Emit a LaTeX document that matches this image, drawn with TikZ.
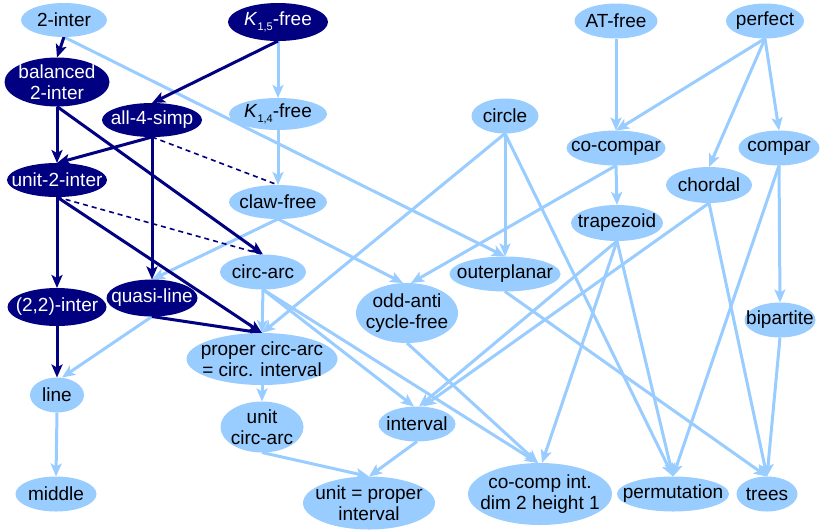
\documentclass[tikz,border=0pt]{standalone}
\usepackage{fontspec}
\setmainfont{Liberation Sans}
\usetikzlibrary{arrows.meta,shapes.geometric,backgrounds}
\definecolor{lb}{RGB}{153,204,255}
\definecolor{nv}{RGB}{0,0,128}
\newcommand{\Kf}[1]{\textit{K}\raisebox{-5pt}{\fontsize{11}{11}\selectfont #1}-free}
\begin{document}
\begin{tikzpicture}[x=1pt,y=-1pt,
  gbase/.style 2 args={ellipse, inner xsep=-25pt, inner ysep=-12pt, outer sep=0pt,
     minimum width=#1pt, minimum height=#2pt, align=center,
     font=\fontsize{19}{21}\selectfont},
  lnode/.style 2 args={gbase={#1}{#2}, fill=lb, text=black},
  dnode/.style 2 args={gbase={#1}{#2}, fill=nv, text=white},
  tip/.style={-{Stealth[length=13pt,width=11pt,inset=3pt]}},
  ledge/.style={draw=lb, line width=3pt, tip},
  dedge/.style={draw=nv, line width=3pt, tip},
  dashedge/.style={draw=nv, line width=1.6pt, dash pattern=on 5pt off 4pt}]
\useasboundingbox (0,0) rectangle (821,531);

% nodes
\node[lnode={86}{34}] (i2) at (64,20) {2-inter};
\node[dnode={100}{38}] (k15) at (278,22) {\Kf{1,5}};
\node[lnode={83}{35}] (at) at (616,21) {AT-free};
\node[lnode={78}{35}] (perfect) at (765,21) {perfect};
\node[dnode={105}{49}] (bal) at (57,82) {balanced\\2-inter};
\node[dnode={100}{34}] (a4s) at (152,120) {all-4-simp};
\node[lnode={98}{32}] (k14) at (278,114) {\Kf{1,4}};
\node[lnode={67}{35}] (circle) at (505,116) {circle};
\node[lnode={99}{35}] (cocomp) at (616,148) {co-compar};
\node[lnode={81}{35}] (compar) at (779,148) {compar};
\node[lnode={86}{36}] (chordal) at (709,185) {chordal};
\node[dnode={100}{34}] (u2i) at (57,180) {unit-2-inter};
\node[lnode={98}{34}] (claw) at (278,202) {claw-free};
\node[lnode={92}{36}] (trap) at (617,223) {trapezoid};
\node[lnode={86}{35}] (carc) at (263,272) {circ-arc};
\node[lnode={111}{35}] (outer) at (505,274) {outerplanar};
\node[dnode={99}{38}] (i22) at (57,307) {(2,2)-inter};
\node[dnode={91}{37}] (ql) at (152,298) {quasi-line};
\node[lnode={102}{60}] (odd) at (407,313) {odd-anti\\cycle-free};
\node[lnode={71}{35}] (bip) at (780,320) {bipartite};
\node[lnode={151}{52}] (pca) at (262,359) {proper circ-arc\\= circ. interval};
\node[lnode={54}{35}] (line) at (57,395) {line};
\node[lnode={83}{51}] (uca) at (262,427) {unit\\circ-arc};
\node[lnode={77}{35}] (interval) at (417,424) {interval};
\node[lnode={81}{35}] (middle) at (56,494) {middle};
\node[lnode={132}{53}] (upi) at (369,503) {unit = proper\\interval};
\node[lnode={144}{62}] (cci) at (540,494) {co-comp int.\\dim 2 height 1};
\node[lnode={112}{35}] (perm) at (673,494) {permutation};
\node[lnode={61}{35}] (trees) at (767,494) {trees};

\begin{scope}[on background layer]
% light edges
\draw[ledge] (i2.south) -- (outer.north);
\draw[ledge] (k15.south) -- (k14.north);
\draw[ledge] (k14.south) -- (claw.north);
\draw[ledge] (claw.south) -- (ql.north);
\draw[ledge] (claw.south) -- ([xshift=-4pt]odd.north);
\draw[ledge] (circle.south) -- (pca.north);
\draw[ledge] (circle.south) -- (outer.north);
\draw[ledge] (circle.south) -- (perm.north);
\draw[ledge] (at.south) -- (cocomp.north);
\draw[ledge] (perfect.south) -- (cocomp.north);
\draw[ledge] (perfect.south) -- (chordal.north);
\draw[ledge] (perfect.south) -- (compar.north);
\draw[ledge] (cocomp.south) -- (trap.north);
\draw[ledge] (cocomp.south) -- ([xshift=4pt]odd.north);
\draw[ledge] (compar.south) -- (bip.north);
\draw[ledge] (compar.south) -- (perm.north);
\draw[ledge] (chordal.south) -- (trees.north);
\draw[ledge] (chordal.south) -- ([xshift=6pt]interval.north);
\draw[ledge] (trap.south) -- ([xshift=2pt]interval.north);
\draw[ledge] (trap.south) -- ([xshift=2pt]cci.north);
\draw[ledge] (trap.south) -- (perm.north);
\draw[ledge] (outer.south) -- (trees.north);
\draw[ledge] (bip.south) -- (trees.north);
\draw[ledge] (carc.south) -- (pca.north);
\draw[ledge] (carc.south) -- ([xshift=-3pt]interval.north);
\draw[ledge] (carc.south) -- ([xshift=-2pt]cci.north);
\draw[ledge] (odd.south) -- ([xshift=-2pt]cci.north);
\draw[ledge] (pca.south) -- (uca.north);
\draw[ledge] (uca.south) -- (upi.north);
\draw[ledge] (interval.south) -- (upi.north);
\draw[ledge] (line.south) -- (middle.north);
\draw[ledge] (ql.south) -- ([xshift=5pt]line.north);
% dark edges
\draw[dashedge] (a4s.south) -- (claw.north);
\draw[dashedge] (u2i.south) -- (carc.north);
\draw[dedge] (i2.south) -- (bal.north);
\draw[dedge] (k15.south) -- (a4s.north);
\draw[dedge] (bal.south) -- (u2i.north);
\draw[dedge] (a4s.south) -- (u2i.north);
\draw[dedge] (bal.south) -- (carc.north);
\draw[dedge] (a4s.south) -- (ql.north);
\draw[dedge] (u2i.south) -- (i22.north);
\draw[dedge] (u2i.south) -- (pca.north);
\draw[dedge] (ql.south) -- (pca.north);
\draw[dedge] (i22.south) -- (line.north);
\end{scope}
\end{tikzpicture}
\end{document}
